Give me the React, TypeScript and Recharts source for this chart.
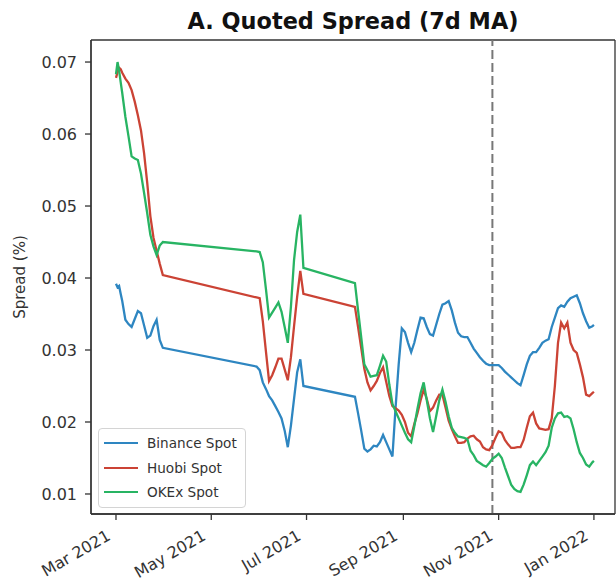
import { LineChart, Line, XAxis, YAxis, Legend, ReferenceLine, CartesianGrid } from 'recharts';

// x values are days since 1 Mar 2021
const dayIndex = [
  0, 1, 2, 3, 4, 6, 8, 10, 12, 14, 16, 18, 20, 22, 24, 26, 28, 30,
  90, 92, 94, 96, 98, 100, 102, 104, 106, 108, 110, 112, 114, 116, 118, 120,
  153, 155, 157, 159, 161, 163, 165, 167, 169, 171,
  173, 175, 177, 179, 181, 183, 185, 187, 189, 191,
  193, 195, 197, 199, 201, 203, 205, 207, 209, 211,
  213, 215, 217, 219, 221, 223, 225, 227, 229, 231,
  233, 235, 237, 239, 241, 243, 245, 247, 249, 251,
  253, 255, 257, 259, 261, 263, 265, 267, 269, 271,
  273, 275, 277, 279, 281, 283, 285, 287, 289, 291,
  293, 295, 297, 299, 301, 303, 305, 306,
];

const binanceSpot = [
  0.0392, 0.0387, 0.0389, 0.0378, 0.0368, 0.0342, 0.0336, 0.0332, 0.0343, 0.0354, 0.0351, 0.0334, 0.0317, 0.032, 0.0333, 0.0342, 0.0314, 0.0303,
  0.0277, 0.0272, 0.0255, 0.0246, 0.0236, 0.023, 0.0222, 0.0214, 0.0205, 0.0188, 0.0165, 0.0195, 0.0232, 0.0269, 0.0287, 0.025,
  0.0235, 0.0212, 0.0188, 0.0163, 0.0159, 0.0162, 0.0167, 0.0166, 0.0172, 0.0182,
  0.0172, 0.0162, 0.0152, 0.022, 0.028, 0.033, 0.0325, 0.031, 0.0297, 0.031,
  0.0328, 0.0345, 0.0344, 0.0332, 0.0322, 0.032, 0.0335, 0.035, 0.0363, 0.0365,
  0.0368, 0.0355, 0.0338, 0.0324, 0.0319, 0.0318, 0.0318, 0.031, 0.0302, 0.0296,
  0.029, 0.0285, 0.0281, 0.0279, 0.0279, 0.0279, 0.0279, 0.0275, 0.027, 0.0266,
  0.0262, 0.0258, 0.0254, 0.0251, 0.0265, 0.028, 0.0292, 0.0297, 0.0297, 0.0303,
  0.031, 0.0313, 0.0315, 0.0332, 0.0345, 0.0358, 0.0362, 0.036, 0.0367, 0.0372,
  0.0374, 0.0376, 0.0365, 0.0351, 0.034, 0.0331, 0.0333, 0.0335,
];

const huobiSpot = [
  0.0678, 0.0686, 0.0692, 0.069, 0.0685, 0.0677, 0.0671, 0.0661, 0.0645, 0.0626, 0.0605, 0.0573, 0.0532, 0.0486, 0.0456, 0.0438, 0.042, 0.0404,
  0.0373, 0.0372, 0.034, 0.0298, 0.0257, 0.0265, 0.0276, 0.0288, 0.0288, 0.0273, 0.0258, 0.029, 0.0333, 0.0374, 0.041, 0.0378,
  0.036, 0.0332, 0.0303, 0.0274, 0.0255, 0.0244, 0.025, 0.0257, 0.0268, 0.0276,
  0.0256, 0.0236, 0.0222, 0.0219, 0.0216, 0.021, 0.02, 0.0185, 0.018, 0.0197,
  0.0212, 0.023, 0.0245, 0.0232, 0.0215, 0.022, 0.023, 0.0238, 0.0238, 0.022,
  0.0202, 0.019, 0.018, 0.0171, 0.0171, 0.0172, 0.0177, 0.018, 0.0181, 0.0176,
  0.0173, 0.0165, 0.0162, 0.0161, 0.0168, 0.0178, 0.0187, 0.0185, 0.0175, 0.0169,
  0.0164, 0.0164, 0.0165, 0.0165, 0.0175, 0.0192, 0.0208, 0.0213, 0.0198, 0.0191,
  0.019, 0.0189, 0.019, 0.0205, 0.025, 0.031, 0.0338, 0.033, 0.0338, 0.031,
  0.03, 0.0296, 0.028, 0.0262, 0.0238, 0.0236, 0.024, 0.0242,
];

const okexSpot = [
  0.0683, 0.07, 0.0688, 0.0672, 0.0657, 0.0624, 0.0597, 0.0569, 0.0566, 0.0564, 0.0545, 0.0518, 0.049, 0.046, 0.0444, 0.0432, 0.0445, 0.045,
  0.0437, 0.0436, 0.0422, 0.0385, 0.0345, 0.0352, 0.0359, 0.0366, 0.0353, 0.0332, 0.031, 0.036, 0.0425, 0.0464, 0.0488, 0.0414,
  0.0393, 0.0355, 0.0318, 0.028, 0.0272, 0.0263, 0.0264, 0.0265, 0.0278, 0.0292,
  0.0284, 0.0252, 0.0225, 0.0215, 0.0205, 0.0195, 0.0185, 0.0176, 0.0172, 0.0194,
  0.0218, 0.024, 0.0255, 0.023, 0.0205, 0.0186, 0.0208, 0.023, 0.0245, 0.0228,
  0.0208, 0.0192, 0.0185, 0.018, 0.0179, 0.0178, 0.0176, 0.016, 0.0154, 0.0146,
  0.0143, 0.014, 0.0138, 0.0143, 0.0149, 0.0152, 0.0156, 0.015, 0.0137, 0.0125,
  0.0113, 0.0107, 0.0104, 0.0103, 0.0113, 0.0126, 0.014, 0.0145, 0.014, 0.0146,
  0.0152, 0.0158, 0.0167, 0.0192, 0.0205, 0.0212, 0.0213, 0.0207, 0.0208, 0.0205,
  0.019, 0.0172, 0.0157, 0.015, 0.0141, 0.0138, 0.0144, 0.0146,
];

const tickDays = [0, 61, 122, 184, 245, 306];
const tickLabels = ['Mar 2021', 'May 2021', 'Jul 2021', 'Sep 2021', 'Nov 2021', 'Jan 2022'];
const yTicks = [0.01, 0.02, 0.03, 0.04, 0.05, 0.06, 0.07];
const eventDay = 241; // 28 Oct 2021

const series = [
  { key: 'binance', name: 'Binance Spot', color: '#2e86c1' },
  { key: 'huobi', name: 'Huobi Spot', color: '#cb4335' },
  { key: 'okex', name: 'OKEx Spot', color: '#28b463' },
];

const data = dayIndex.map((d, i) => ({
  day: d,
  binance: binanceSpot[i],
  huobi: huobiSpot[i],
  okex: okexSpot[i],
}));

const FONT = '"DejaVu Sans", sans-serif';
const INK = '#333';

const DateTick = (props: any) => {
  const { x, y, payload } = props;
  const label = tickLabels[tickDays.indexOf(payload.value)] ?? '';
  return (
    <g transform={`translate(${x - 4.5},${y + 19})`}>
      <text textAnchor="end" transform="rotate(-30)" fontSize={16} fill={INK} fontFamily={FONT}>
        {label}
      </text>
    </g>
  );
};

const YLabel = (props: any) => {
  const vb = props.viewBox || { x: 20, y: 40, width: 71, height: 474 };
  const cx = vb.x + 5;
  const cy = vb.y + vb.height / 2;
  return (
    <text
      x={cx}
      y={cy}
      transform={`rotate(-90, ${cx}, ${cy})`}
      textAnchor="middle"
      fontSize={15}
      fill={INK}
      fontFamily={FONT}
    >
      Spread (%)
    </text>
  );
};

const LegendBox = () => (
  <div
    style={{
      border: '1px solid #d4d4d4',
      borderRadius: 4,
      background: 'rgba(255,255,255,0.85)',
      padding: '2px 8px 2px 5px',
      fontFamily: FONT,
      fontSize: 13.6,
      color: INK,
    }}
  >
    {series.map((s) => (
      <div key={s.key} style={{ display: 'flex', alignItems: 'center', height: 24.5 }}>
        <span style={{ display: 'inline-block', width: 34, height: 2.4, background: s.color, marginRight: 9 }} />
        <span style={{ whiteSpace: 'nowrap' }}>{s.name}</span>
      </div>
    ))}
  </div>
);

// frame: grid lines only at the plot edges
const frameRows = ({ offset }: any) => [offset.top, offset.top + offset.height];
const frameCols = ({ offset }: any) => [offset.left, offset.left + offset.width];

export default function App() {
  return (
    <div style={{ position: 'absolute', left: 0, top: 0, width: 616, height: 587, background: '#fff' }}>
      <div
        style={{
          position: 'absolute',
          left: 91,
          width: 524,
          top: 10,
          lineHeight: '22px',
          textAlign: 'center',
          fontFamily: FONT,
          fontWeight: 'bold',
          fontSize: 22.4,
          color: '#111',
          zIndex: 1,
        }}
      >
        A. Quoted Spread (7d MA)
      </div>
      <LineChart width={616} height={587} data={data} margin={{ top: 40, right: 1, bottom: 13, left: 20 }}>
        <CartesianGrid
          stroke={INK}
          strokeWidth={1.3}
          strokeDasharray=""
          fill="none"
          horizontalCoordinatesGenerator={frameRows}
          verticalCoordinatesGenerator={frameCols}
        />
        <XAxis
          dataKey="day"
          type="number"
          domain={[-16, 319.5]}
          ticks={tickDays}
          interval={0}
          allowDataOverflow
          height={60}
          tickSize={6}
          tickMargin={0}
          tick={<DateTick />}
          axisLine={{ stroke: INK, strokeWidth: 1.3 }}
          tickLine={{ stroke: INK, strokeWidth: 1.3 }}
        />
        <YAxis
          type="number"
          domain={[0.00722, 0.07306]}
          ticks={yTicks}
          interval={0}
          allowDataOverflow
          width={71}
          tickSize={6}
          tickMargin={8}
          tickFormatter={(v: number) => v.toFixed(2)}
          tick={{ fontSize: 16, fill: INK, fontFamily: FONT }}
          axisLine={{ stroke: INK, strokeWidth: 1.3 }}
          tickLine={{ stroke: INK, strokeWidth: 1.3 }}
          label={{ content: <YLabel /> }}
        />
        <ReferenceLine x={eventDay} stroke="#777" strokeWidth={2} strokeDasharray="9 4" />
        {series.map((s) => (
          <Line
            key={s.key}
            type="linear"
            dataKey={s.key}
            name={s.name}
            stroke={s.color}
            strokeWidth={2.3}
            dot={false}
            activeDot={false}
            isAnimationActive={false}
          />
        ))}
        <Legend
          layout="vertical"
          align="center"
          verticalAlign="middle"
          content={<LegendBox />}
          wrapperStyle={{ left: 98, top: 428, width: 'auto', height: 'auto' }}
        />
      </LineChart>
    </div>
  );
}
